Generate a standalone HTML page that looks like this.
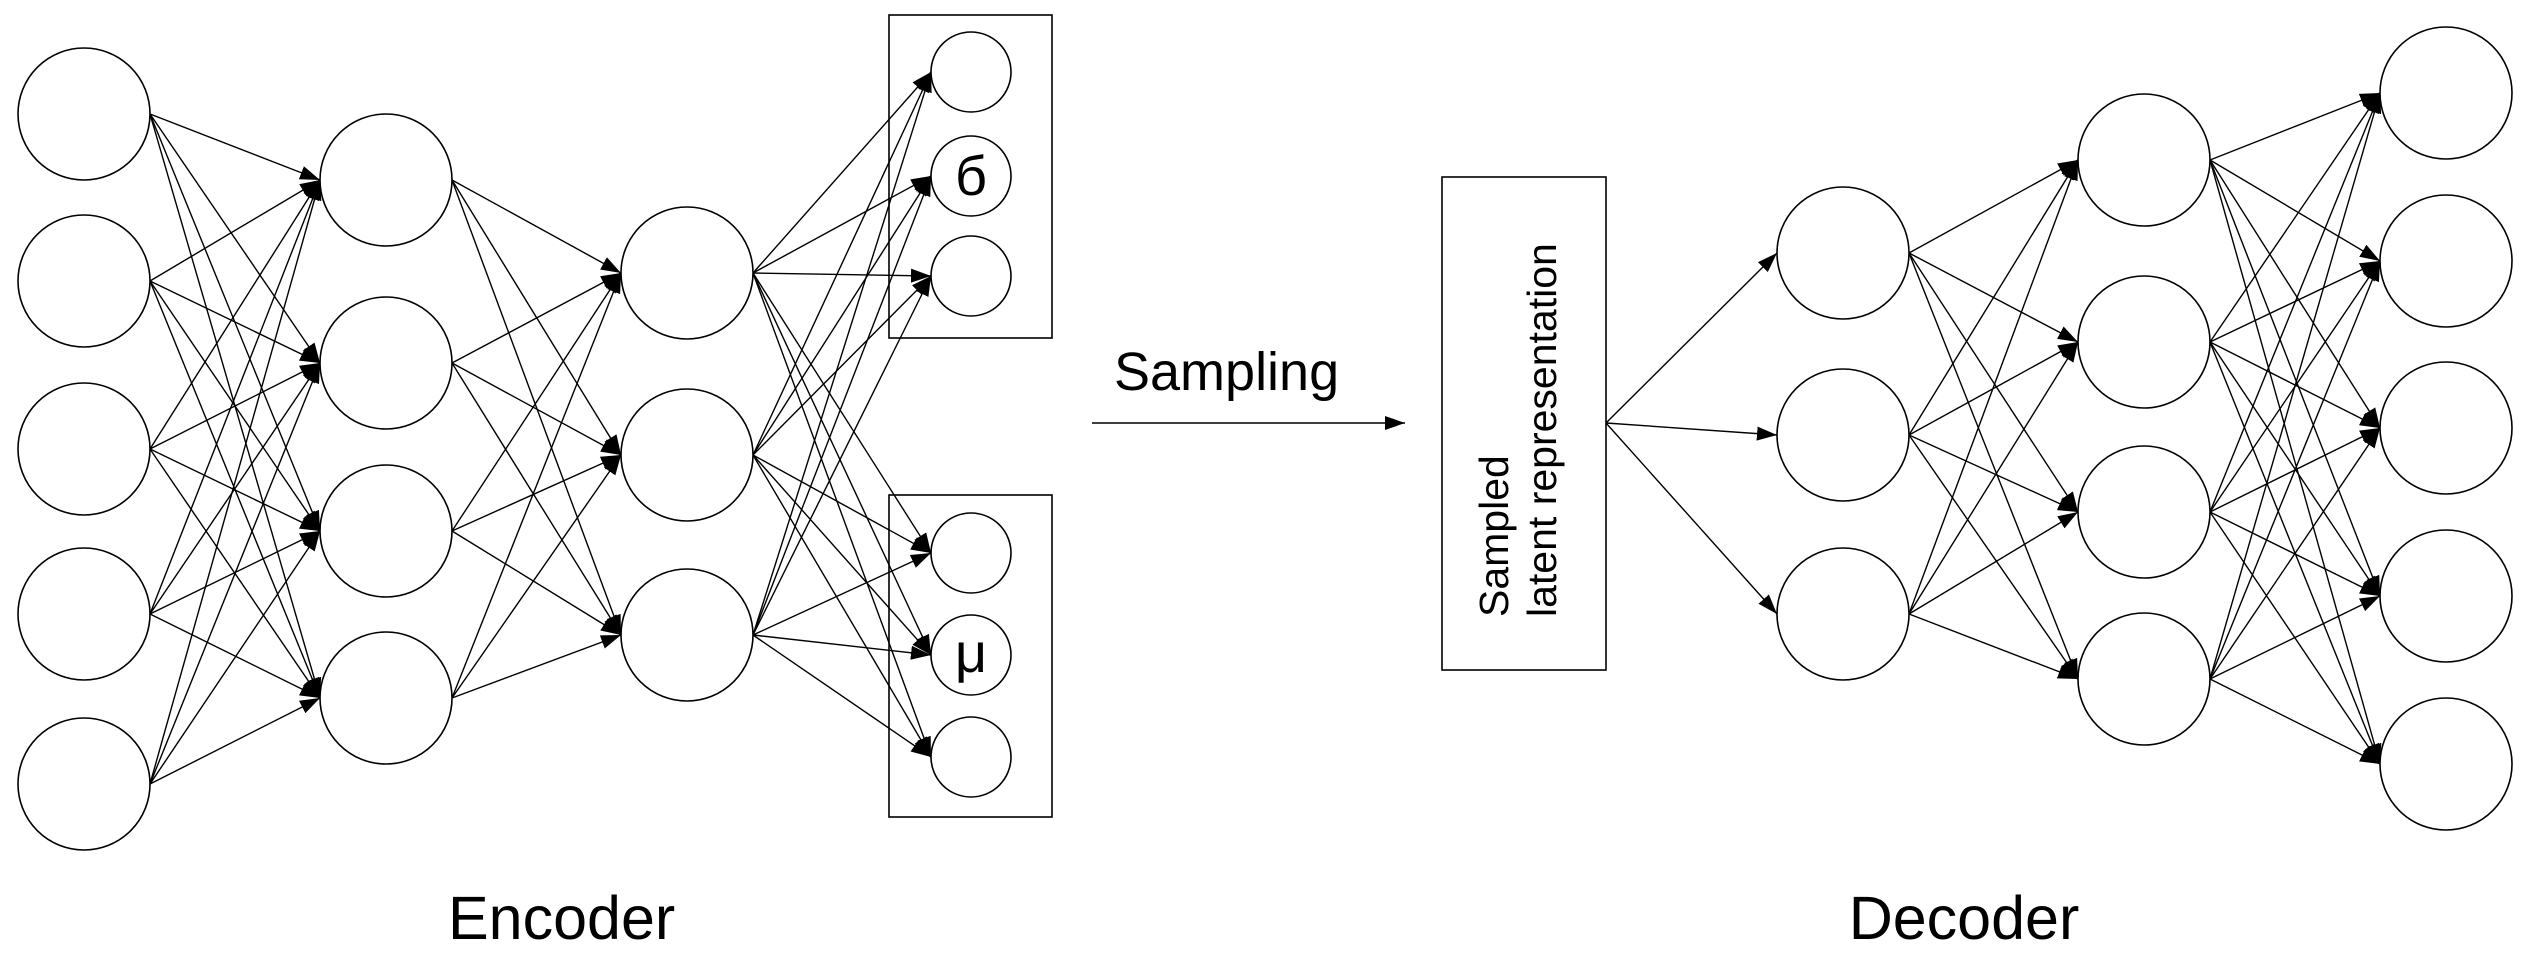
<!DOCTYPE html>
<html><head><meta charset="utf-8"><style>
html,body{margin:0;padding:0;background:#fff;}
svg{display:block;}
text{font-family:"Liberation Sans",Arial,sans-serif;fill:#000;}
</style></head><body>
<svg id="s" width="2526" height="958" viewBox="0 0 2526 958" xmlns="http://www.w3.org/2000/svg">
<defs>
<marker id="a" markerUnits="userSpaceOnUse" markerWidth="22" markerHeight="16" refX="20" refY="7" orient="auto">
<path d="M0,0 L20,7 L0,14 z" fill="#000"/>
</marker>
</defs>
<g id="lines" stroke="#000" stroke-width="1.4" fill="none"></g>
<g id="nodes" stroke="#000" stroke-width="1.6" fill="#fff"></g>
<rect x="889" y="15" width="163" height="323" fill="none" stroke="#000" stroke-width="1.6"/>
<rect x="889" y="495" width="163" height="322" fill="none" stroke="#000" stroke-width="1.6"/>
<rect x="1442" y="177" width="164" height="493" fill="none" stroke="#000" stroke-width="1.6"/>
<line x1="1092" y1="423" x2="1405" y2="423" stroke="#000" stroke-width="1.6" marker-end="url(#a)"/>
<text x="1114" y="390" font-size="54">Sampling</text>
<text transform="translate(1508,617) rotate(-90)" font-size="41">Sampled</text>
<text transform="translate(1556,617) rotate(-90)" font-size="41">latent representation</text>
<text x="448" y="939" font-size="61">Encoder</text>
<text x="1964" y="939" font-size="61" text-anchor="middle">Decoder</text>
</svg>
<script>
var L=document.getElementById('lines'),N=document.getElementById('nodes'),ns='http://www.w3.org/2000/svg';
function layer(cx,r,ys){return ys.map(function(y){return {x:cx,y:y,r:r};});}
var e1=layer(84,66,[114,281,449,614,784]),
e2=layer(386,66,[180,363,531,698]),
e3=layer(687,66,[273,455,635]),
e4=layer(971,40,[72,176,276,553,655,757]),
d1=layer(1843,66,[253,435,614]),
d2=layer(2144,66,[160,342,512,679]),
d3=layer(2446,66,[93,261,428,596,764]);
function ln(x1,y1,x2,y2){var l=document.createElementNS(ns,'line');l.setAttribute('x1',x1);l.setAttribute('y1',y1);l.setAttribute('x2',x2);l.setAttribute('y2',y2);l.setAttribute('marker-end','url(#a)');L.appendChild(l);}
function conn(A,B){A.forEach(function(a){B.forEach(function(b){ln(a.x+a.r,a.y,b.x-b.r,b.y);});});}
conn(e1,e2);conn(e2,e3);conn(e3,e4);conn(d1,d2);conn(d2,d3);
d1.forEach(function(b){ln(1606,423,b.x-b.r,b.y);});
[e1,e2,e3,e4,d1,d2,d3].forEach(function(Ly){Ly.forEach(function(n){var c=document.createElementNS(ns,'circle');c.setAttribute('cx',n.x);c.setAttribute('cy',n.y);c.setAttribute('r',n.r);N.appendChild(c);});});
var t1=document.createElementNS(ns,'text');t1.setAttribute('x',971);t1.setAttribute('y',195);t1.setAttribute('font-size',56);t1.setAttribute('text-anchor','middle');t1.textContent='б';document.getElementById('s').appendChild(t1);
var t2=document.createElementNS(ns,'text');t2.setAttribute('x',971);t2.setAttribute('y',672);t2.setAttribute('font-size',56);t2.setAttribute('text-anchor','middle');t2.textContent='μ';document.getElementById('s').appendChild(t2);
</script>
</body></html>
